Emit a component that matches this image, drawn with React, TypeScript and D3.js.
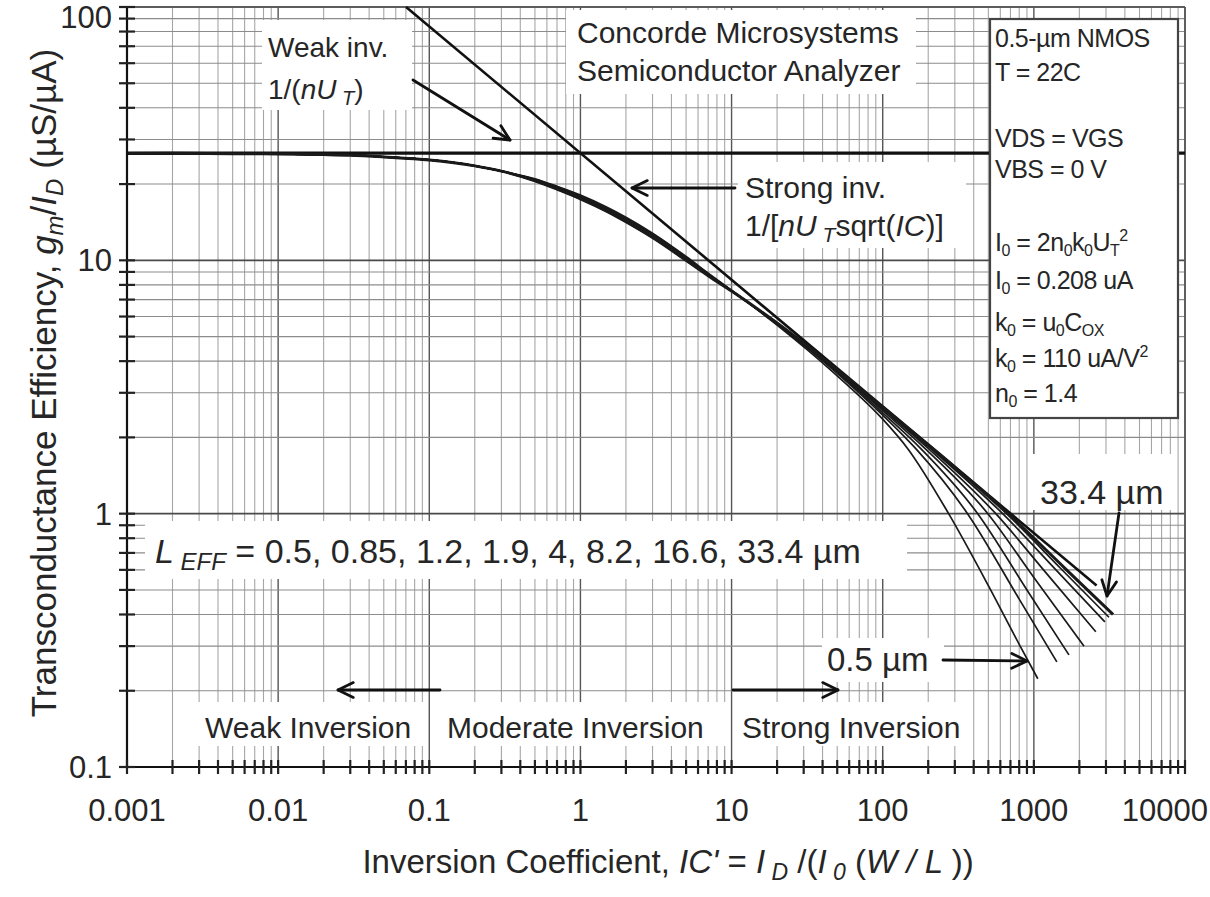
import React from 'react'
import * as d3 from 'd3'

const width = 1210
const height = 897
const left = 127
const right = 1185
const top = 7
const bottom = 767

// tick labels
const xTicks = [0.001, 0.01, 0.1, 1, 10, 100, 1000, 10000]
const xTickLabels = ['0.001', '0.01', '0.1', '1', '10', '100', '1000', '10000']
const yTicks = [0.1, 1, 10, 100]
const yTickLabels = ['0.1', '1', '10', '100']

// channel lengths (um)
const lEff = [0.5, 0.85, 1.2, 1.9, 4, 8.2, 16.6, 33.4]

// weak inversion part, all curves on top of each other  [IC, gm/ID]
const weakPart = [
  [0.001, 26.4], [0.002, 26.45], [0.005, 26.35], [0.01, 26.3], [0.02, 26.15],
  [0.03, 26.0], [0.05, 25.6], [0.1, 24.9], [0.2, 23.6], [0.3, 22.5],
]

const curve05 = [
  [0.5, 21.0], [0.7, 19.6], [1, 18.1], [1.5, 16.2], [2, 14.8], [3, 12.8], [5, 10.35], [7, 8.9],
  [10, 7.6], [20, 5.55], [50, 3.5], [100, 2.36], [146, 1.81], [273, 1.0], [500, 0.52], [800, 0.305], [1062, 0.223],
]
const curve085 = [
  [0.5, 20.9], [0.7, 19.5], [1, 17.95], [1.5, 16.05], [2, 14.65], [3, 12.7], [5, 10.3], [7, 8.85],
  [10, 7.6], [20, 5.6], [50, 3.58], [100, 2.45], [165, 1.81], [364, 1.0], [800, 0.46], [1419, 0.26],
]
const curve12 = [
  [0.5, 20.8], [0.7, 19.4], [1, 17.85], [1.5, 15.95], [2, 14.55], [3, 12.6], [5, 10.25], [7, 8.8],
  [10, 7.6], [20, 5.6], [50, 3.62], [100, 2.5], [178, 1.81], [425, 1.0], [900, 0.5], [1706, 0.277],
]
const curve19 = [
  [0.5, 20.7], [0.7, 19.3], [1, 17.7], [1.5, 15.8], [2, 14.4], [3, 12.45], [5, 10.15], [7, 8.75],
  [10, 7.58], [20, 5.62], [50, 3.65], [100, 2.55], [190, 1.81], [496, 1.0], [1000, 0.56], [2144, 0.3],
]
const curve4 = [
  [0.5, 20.6], [0.7, 19.15], [1, 17.55], [1.5, 15.65], [2, 14.25], [3, 12.35], [5, 10.05], [7, 8.72],
  [10, 7.57], [20, 5.63], [50, 3.67], [100, 2.59], [200, 1.81], [560, 1.0], [1200, 0.585], [2570, 0.342],
]
const curve82 = [
  [0.5, 20.6], [0.7, 19.1], [1, 17.5], [1.5, 15.6], [2, 14.2], [3, 12.3], [5, 10.0], [7, 8.7],
  [10, 7.56], [20, 5.64], [50, 3.68], [100, 2.61], [207, 1.81], [622, 1.0], [1400, 0.6], [2950, 0.374],
]
const curve166 = [
  [0.5, 20.6], [0.7, 19.1], [1, 17.5], [1.5, 15.6], [2, 14.2], [3, 12.3], [5, 10.0], [7, 8.7],
  [10, 7.56], [20, 5.65], [50, 3.69], [100, 2.62], [211, 1.81], [660, 1.0], [1500, 0.609], [3140, 0.39],
]
const curve334 = [
  [0.5, 20.6], [0.7, 19.1], [1, 17.5], [1.5, 15.6], [2, 14.2], [3, 12.3], [5, 10.0], [7, 8.7],
  [10, 7.56], [20, 5.66], [50, 3.7], [100, 2.63], [214, 1.81], [675, 1.0], [1600, 0.61], [3340, 0.4],
]
const curves = [curve05, curve085, curve12, curve19, curve4, curve82, curve166, curve334]

// asymptotes
const weakAsym = [[0.001, 26.5], [10000, 26.5]]
const strongAsym = [[0.0702, 100], [2600, 0.52]]

const infoLines = ['0.5-µm NMOS', 'T = 22C', 'VDS = VGS', 'VBS = 0 V']

const x = d3.scaleLog().domain([0.001, 10000]).range([left, right])
const y = d3.scaleLog().domain([0.1, 100]).range([bottom, top])
const line = d3.line<number[]>().x(d => x(d[0])).y(d => y(d[1])).curve(d3.curveMonotoneX)

const font = '"Liberation Sans", Arial, sans-serif'
const ink = '#262626'

function Arrow({ x1, y1, x2, y2 }: { x1: number, y1: number, x2: number, y2: number }) {
  const a = Math.atan2(y2 - y1, x2 - x1)
  const len = 17
  const spread = 0.45
  const p1 = [x2 - len * Math.cos(a - spread), y2 - len * Math.sin(a - spread)]
  const p2 = [x2 - len * Math.cos(a + spread), y2 - len * Math.sin(a + spread)]
  return (
    <g stroke="#111" strokeWidth={2.8} fill="none" strokeLinecap="round" strokeLinejoin="round">
      <line x1={x1} y1={y1} x2={x2} y2={y2} />
      <polyline points={`${p1[0]},${p1[1]} ${x2},${y2} ${p2[0]},${p2[1]}`} />
    </g>
  )
}

export default function App() {
  const allX = x.ticks()
  const allY = y.ticks()
  const whiteBoxes = [
    [262, 20, 150, 90], [566, 10, 350, 84], [738, 162, 228, 86],
    [145, 521, 762, 58], [1030, 454, 142, 56], [822, 638, 122, 44], [195, 702, 775, 44],
  ]
  return (
    <svg width={width} height={height} style={{ position: 'absolute', left: 0, top: 0, background: '#fff' }}
      fontFamily={font}>
      <rect x={0} y={0} width={width} height={height} fill="#fff" />
      {/* grid */}
      <g>
        {allX.map((t, i) => {
          const major = xTicks.includes(+t.toPrecision(6))
          return <line key={'gx' + i} x1={x(t)} x2={x(t)} y1={top} y2={bottom}
            stroke={major ? '#555' : '#a6a6a6'} strokeWidth={major ? 1.4 : 1.1} />
        })}
        {allY.map((t, i) => {
          const major = yTicks.includes(+t.toPrecision(6))
          return <line key={'gy' + i} x1={left} x2={right} y1={y(t)} y2={y(t)}
            stroke={major ? '#4a4a4a' : '#8c8c8c'} strokeWidth={major ? 1.6 : 1.1} />
        })}
      </g>
      {whiteBoxes.map((b, i) => <rect key={'wb' + i} x={b[0]} y={b[1]} width={b[2]} height={b[3]} fill="#fff" />)}
      {/* region dividers through the label row */}
      <line x1={x(0.1)} x2={x(0.1)} y1={702} y2={746} stroke="#555" strokeWidth={1.4} />
      <line x1={x(10)} x2={x(10)} y1={702} y2={746} stroke="#555" strokeWidth={1.4} />

      {/* frame */}
      <line x1={left} x2={right} y1={top} y2={top} stroke="#555" strokeWidth={1.6} />
      <line x1={right} x2={right} y1={top} y2={bottom} stroke="#555" strokeWidth={1.6} />

      {/* asymptotes */}
      <path d={line(weakAsym) || ''} fill="none" stroke="#111" strokeWidth={3.4} />
      <path d={line(strongAsym) || ''} fill="none" stroke="#111" strokeWidth={2.6} />

      {/* measured curves */}
      {curves.map((c, i) => (
        <path key={'c' + lEff[i]} d={line([...weakPart, ...c]) || ''} fill="none" stroke="#1a1a1a"
          strokeWidth={i === curves.length - 1 ? 3 : 1.7} />
      ))}

      {/* axes */}
      <line x1={left} x2={left} y1={top} y2={bottom} stroke="#111" strokeWidth={2.2} />
      <line x1={left} x2={right} y1={bottom} y2={bottom} stroke="#111" strokeWidth={2.2} />
      {allX.map((t, i) => <line key={'tx' + i} x1={x(t)} x2={x(t)} y1={bottom - 7} y2={bottom + 7} stroke="#222" strokeWidth={2.2} />)}
      {allY.map((t, i) => <line key={'ty' + i} x1={left - 8} x2={left + 8} y1={y(t)} y2={y(t)} stroke="#222" strokeWidth={2.2} />)}

      {/* tick labels */}
      {xTicks.map((t, i) => (
        <text key={'lx' + i} x={i === xTicks.length - 1 ? 1208 : x(t)} y={821}
          textAnchor={i === xTicks.length - 1 ? 'end' : 'middle'} fontSize={31} fill={ink}>{xTickLabels[i]}</text>
      ))}
      {yTicks.map((t, i) => (
        <text key={'ly' + i} x={112} y={i === yTicks.length - 1 ? 28 : y(t) + 11} textAnchor="end" fontSize={31} fill={ink}>{yTickLabels[i]}</text>
      ))}

      {/* axis titles */}
      <text x={668} y={873} textAnchor="middle" fontSize={33} fill={ink}>
        {'Inversion Coefficient, '}
        <tspan fontStyle="italic">{"IC'"}</tspan>
        {' = '}
        <tspan fontStyle="italic">I</tspan>
        <tspan fontStyle="italic" fontSize={23} dy={7}>{' D'}</tspan>
        <tspan dy={-7}>{' /('}</tspan>
        <tspan fontStyle="italic">I</tspan>
        <tspan fontStyle="italic" fontSize={23} dy={7}>{' 0'}</tspan>
        <tspan dy={-7}>{' ('}</tspan>
        <tspan fontStyle="italic">{'W / L '}</tspan>
        {'))'}
      </text>
      <text transform="translate(56,383) rotate(-90)" textAnchor="middle" fontSize={35} fill={ink}>
        {'Transconductance Efficiency, '}
        <tspan fontStyle="italic">g</tspan>
        <tspan fontStyle="italic" fontSize={24} dy={7}>m</tspan>
        <tspan dy={-7}>/</tspan>
        <tspan fontStyle="italic">I</tspan>
        <tspan fontStyle="italic" fontSize={24} dy={7}>D</tspan>
        <tspan dy={-7}>{'  (µS/µA)'}</tspan>
      </text>

      {/* annotations */}
      <g fontSize={28} fill={ink}>
        <text x={268} y={57}>Weak inv.</text>
        <text x={268} y={99}>
          {'1/('}<tspan fontStyle="italic">nU</tspan>
          <tspan fontStyle="italic" fontSize={20} dy={6}>{' T'}</tspan>
          <tspan dy={-6}>)</tspan>
        </text>
      </g>
      <g fontSize={30} fill={ink}>
        <text x={577} y={43}>Concorde Microsystems</text>
        <text x={577} y={81}>Semiconductor Analyzer</text>
        <text x={745} y={198}>Strong inv.</text>
        <text x={745} y={236}>
          {'1/['}<tspan fontStyle="italic">nU</tspan>
          <tspan fontStyle="italic" fontSize={21} dy={6}>{' T'}</tspan>
          <tspan dy={-6}>{'sqrt('}</tspan>
          <tspan fontStyle="italic">IC</tspan>
          {')]'}
        </text>
        <text x={205} y={738}>Weak Inversion</text>
        <text x={447} y={738}>Moderate Inversion</text>
        <text x={742} y={738}>Strong Inversion</text>
      </g>
      <text x={155} y={563} fontSize={34} fill={ink}>
        <tspan fontStyle="italic">L</tspan>
        <tspan fontStyle="italic" fontSize={24} dy={7}>{' EFF'}</tspan>
        <tspan dy={-7}>{' = ' + lEff.join(', ') + ' µm'}</tspan>
      </text>
      <text x={1040} y={504} fontSize={34} fill={ink}>33.4 µm</text>
      <text x={827} y={671} fontSize={33} fill={ink}>0.5 µm</text>

      <Arrow x1={413} y1={80} x2={510} y2={140} />
      <Arrow x1={735} y1={188} x2={632} y2={188} />
      <Arrow x1={440} y1={690} x2={338} y2={690} />
      <Arrow x1={733} y1={690} x2={838} y2={690} />
      <Arrow x1={1119} y1={513} x2={1107} y2={596} />
      <Arrow x1={943} y1={660} x2={1027} y2={661} />

      {/* info box */}
      <rect x={990} y={19} width={188} height={399} fill="#fff" stroke="#444" strokeWidth={2.2} />
      <g fontSize={25} fill={ink} letterSpacing={-0.5}>
        <text x={995} y={47}>{infoLines[0]}</text>
        <text x={995} y={81}>{infoLines[1]}</text>
        <text x={995} y={147}>{infoLines[2]}</text>
        <text x={995} y={178}>{infoLines[3]}</text>
        <text x={995} y={251}>
          I<tspan fontSize={16} dy={5}>0</tspan><tspan dy={-5}>{' = 2n'}</tspan>
          <tspan fontSize={16} dy={5}>0</tspan><tspan dy={-5}>k</tspan>
          <tspan fontSize={16} dy={5}>0</tspan><tspan dy={-5}>U</tspan>
          <tspan fontSize={16} dy={5}>T</tspan><tspan fontSize={16} dy={-15}>2</tspan>
        </text>
        <text x={995} y={289}>
          I<tspan fontSize={16} dy={5}>0</tspan><tspan dy={-5}>{' = 0.208 uA'}</tspan>
        </text>
        <text x={995} y={331}>
          k<tspan fontSize={16} dy={5}>0</tspan><tspan dy={-5}>{' = u'}</tspan>
          <tspan fontSize={16} dy={5}>0</tspan><tspan dy={-5}>C</tspan>
          <tspan fontSize={16} dy={5}>OX</tspan>
        </text>
        <text x={995} y={367}>
          k<tspan fontSize={16} dy={5}>0</tspan><tspan dy={-5}>{' = 110 uA/V'}</tspan>
          <tspan fontSize={16} dy={-10}>2</tspan>
        </text>
        <text x={995} y={402}>
          n<tspan fontSize={16} dy={5}>0</tspan><tspan dy={-5}>{' = 1.4'}</tspan>
        </text>
      </g>
    </svg>
  )
}
